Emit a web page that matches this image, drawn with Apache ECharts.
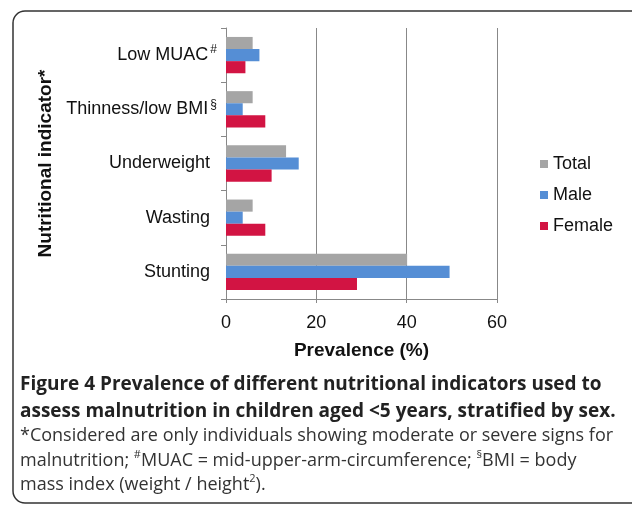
<!DOCTYPE html>
<html>
<head>
<meta charset="utf-8">
<script src="https://cdn.jsdelivr.net/npm/echarts@6/dist/echarts.min.js"></script>
<style>html,body{margin:0;padding:0;background:#fff;}#c{width:632px;height:508px;}</style>
</head>
<body>
<div id="c"></div>
<script>
const categories = ['Low MUAC', 'Thinness/low BMI', 'Underweight', 'Wasting', 'Stunting'];
const categorySup = ['#', '§', '', '', ''];
const seriesNames = ['Total', 'Male', 'Female'];
const totalValues = [5.9, 5.9, 13.3, 5.9, 40.1];
const maleValues = [7.4, 3.7, 16.1, 3.7, 49.5];
const femaleValues = [4.3, 8.7, 10.1, 8.7, 29.0];
const xTicks = [0, 20, 40, 60];
const colors = ['#a5a5a5', '#558ed5', '#d21443'];

const chart = echarts.init(document.getElementById('c'), null, {renderer: 'canvas'});
const F = "'Liberation Sans', Arial, sans-serif";
const CF = "'Open Sans', sans-serif";

function bar(name, data, color) {
  return {
    name: name, type: 'bar', data: data, barGap: '0%', barCategoryGap: '33%',
    itemStyle: {color: color}
  };
}

const supRich = {
  t: {fontFamily: CF, fontSize: 18, fill: '#333', lineHeight: 24},
  s: {fontFamily: CF, fontSize: 11, fill: '#333', verticalAlign: 'top', lineHeight: 14}
};

chart.setOption({
  animation: false,
  backgroundColor: '#fff',
  grid: {left: 226, top: 28, right: 135, bottom: 209, containLabel: false},
  legend: {
    data: seriesNames, orient: 'vertical', left: 535, top: 150,
    itemWidth: 8, itemHeight: 8, itemGap: 13, icon: 'rect',
    textStyle: {fontFamily: F, fontSize: 18, color: '#111'}
  },
  xAxis: {
    type: 'value', min: xTicks[0], max: xTicks[xTicks.length - 1], interval: 20,
    name: 'Prevalence (%)', nameLocation: 'middle', nameGap: 42,
    nameTextStyle: {fontFamily: F, fontSize: 19, fontWeight: 'bold', color: '#111'},
    axisLine: {show: true, lineStyle: {color: '#888', width: 1}},
    axisTick: {show: true, length: 4, lineStyle: {color: '#888'}},
    axisLabel: {fontFamily: F, fontSize: 18, color: '#111', margin: 15},
    splitLine: {show: true, lineStyle: {color: '#888', width: 1}}
  },
  yAxis: {
    type: 'category', data: categories, inverse: true,
    name: 'Nutritional indicator*', nameLocation: 'middle', nameGap: 171, nameRotate: 90,
    nameTextStyle: {fontFamily: F, fontSize: 19, fontWeight: 'bold', color: '#111'},
    axisLine: {show: true, lineStyle: {color: '#888', width: 1}},
    axisTick: {show: true, length: 5, lineStyle: {color: '#888'}},
    axisLabel: {
      margin: 9, fontFamily: F, fontSize: 18, color: '#111',
      formatter: function (v) {
        const s = categorySup[categories.indexOf(v)];
        return s ? '{n|' + v + '}{s|' + s + '}' : '{p|' + v + '}';
      },
      rich: {
        n: {fontFamily: F, fontSize: 18, color: '#111', lineHeight: 22},
        p: {fontFamily: F, fontSize: 18, color: '#111', lineHeight: 22, padding: [0, 7, 0, 0]},
        s: {fontFamily: F, fontSize: 12, color: '#111', verticalAlign: 'top', lineHeight: 12, padding: [0, 0, 0, 2]}
      }
    },
    splitLine: {show: false}
  },
  series: [
    bar(seriesNames[0], totalValues, colors[0]),
    bar(seriesNames[1], maleValues, colors[1]),
    bar(seriesNames[2], femaleValues, colors[2])
  ],
  graphic: [
    {type: 'rect', shape: {x: 13, y: 11, width: 640, height: 492, r: 12},
     style: {fill: 'none', stroke: '#333', lineWidth: 1.5}, z: -1},
    {type: 'text', left: 20, top: 375, style: {text: 'Figure 4 Prevalence of different nutritional indicators used to',
      fontFamily: CF, fontSize: 19, fontWeight: 'bold', fill: '#222'}},
    {type: 'text', left: 20, top: 402, style: {text: 'assess malnutrition in children aged <5 years, stratified by sex.',
      fontFamily: CF, fontSize: 19, fontWeight: 'bold', fill: '#222'}},
    {type: 'text', left: 20, top: 427, style: {text: '*Considered are only individuals showing moderate or severe signs for',
      fontFamily: CF, fontSize: 18, fill: '#333'}},
    {type: 'text', left: 20, top: 449, style: {text: '{t|malnutrition; }{s|#}{t|MUAC = mid-upper-arm-circumference; }{s|§}{t|BMI = body}',
      rich: supRich}},
    {type: 'text', left: 20, top: 473, style: {text: '{t|mass index (weight / height}{s|2}{t|).}',
      rich: supRich}}
  ]
});
</script>
</body>
</html>
